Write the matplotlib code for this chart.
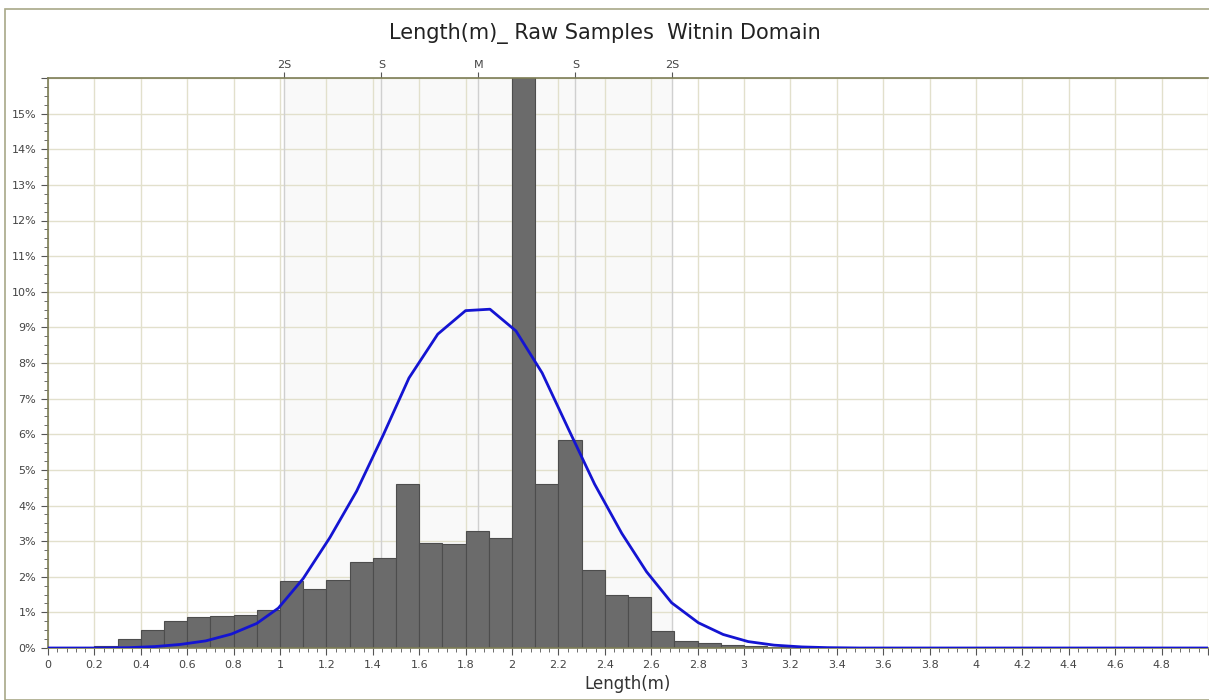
import matplotlib
matplotlib.use("Agg")
import matplotlib.pyplot as plt
from matplotlib.patches import Rectangle
from matplotlib.ticker import MultipleLocator, FuncFormatter

# Histogram bins (left edges, width 0.1) and percentages
bin_left = [0.2, 0.3, 0.4, 0.5, 0.6, 0.7, 0.8, 0.9, 1.0, 1.1, 1.2, 1.3, 1.4, 1.5,
            1.6, 1.7, 1.8, 1.9, 2.0, 2.1, 2.2, 2.3, 2.4, 2.5, 2.6, 2.7, 2.8, 2.9,
            3.0, 3.1]
bin_pct = [0.05, 0.25, 0.5, 0.77, 0.86, 0.9, 0.93, 1.06, 1.87, 1.66, 1.92, 2.42,
           2.53, 4.6, 2.95, 2.92, 3.28, 3.1, 17.0, 4.6, 5.83, 2.2, 1.5, 1.42,
           0.49, 0.21, 0.15, 0.08, 0.05, 0.02]

# Fitted normal curve
curve_x = [0.0, 0.2, 0.35, 0.46, 0.57, 0.68, 0.79, 0.9, 0.993, 1.10, 1.215, 1.33,
           1.443, 1.556, 1.68, 1.80, 1.905, 2.017, 2.13, 2.243, 2.356, 2.473,
           2.58, 2.688, 2.803, 2.91, 3.018, 3.13, 3.25, 3.36, 3.5, 5.0]
curve_y = [0.0, 0.0, 0.01, 0.04, 0.1, 0.2, 0.39, 0.69, 1.12, 1.95, 3.1, 4.4,
           5.95, 7.58, 8.81, 9.47, 9.51, 8.9, 7.72, 6.15, 4.6, 3.22,
           2.14, 1.27, 0.71, 0.38, 0.18, 0.08, 0.03, 0.01, 0.0, 0.0]

# Sample statistics (mean and standard deviation markers on top axis)
mean_len = 1.855
sd_len = 0.418
stat_labels = ["2S", "S", "M", "S", "2S"]
stat_mult = [-2, -1, 0, 1, 2]

fig = plt.figure(figsize=(12.09, 7.0), dpi=100)
fig.patch.set_facecolor("white")
# thin frame around the whole control
fig.add_artist(Rectangle((5 / 1209, 0.0), 1.0, 1 - 9 / 700, transform=fig.transFigure,
                         fill=False, edgecolor="#a8a888", linewidth=1.2))

ax = fig.add_axes([48 / 1209, 1 - 648 / 700, 1160 / 1209, 570 / 700])
ax.set_xlim(0, 5)
ax.set_ylim(0, 16)

# shaded band between -2S and +2S
ax.axvspan(mean_len - 2 * sd_len, mean_len + 2 * sd_len, color="#f9f9f9", zorder=0)

ax.xaxis.set_major_locator(MultipleLocator(0.2))
ax.xaxis.set_minor_locator(MultipleLocator(0.04))
ax.yaxis.set_major_locator(MultipleLocator(1))
ax.yaxis.set_minor_locator(MultipleLocator(0.25))
ax.xaxis.set_major_formatter(FuncFormatter(lambda v, p: f"{v:g}" if v < 4.95 else ""))
ax.yaxis.set_major_formatter(FuncFormatter(lambda v, p: f"{v:.0f}%" if v < 15.5 else ""))
ax.grid(True, which="major", color="#e2e0cc", linewidth=1.0, zorder=1)
ax.set_axisbelow(True)

for m in stat_mult:
    ax.axvline(mean_len + m * sd_len, color="#d0d0d0", linewidth=1.0, zorder=1)

ax.bar(bin_left, bin_pct, width=0.1, align="edge", color="#6b6b6b",
       edgecolor="#4d4d4d", linewidth=0.8, zorder=2)
ax.plot(curve_x, curve_y, color="#1414d2", linewidth=2.0, zorder=3)

for side in ["left", "bottom", "top"]:
    ax.spines[side].set_color("#7d7d55")
    ax.spines[side].set_linewidth(1.2)
ax.spines["right"].set_visible(False)

ax.tick_params(axis="both", which="major", labelsize=8, color="#555555", length=5)
ax.tick_params(axis="both", which="minor", color="#555555", length=3)
ax.tick_params(axis="both", labelcolor="#444444")
ax.set_xlabel("Length(m)", fontsize=12, color="#333333", labelpad=4)

top = ax.secondary_xaxis("top")
top.set_xticks([mean_len + m * sd_len for m in stat_mult])
top.set_xticklabels(stat_labels)
top.tick_params(labelsize=8, length=4, color="#555555", labelcolor="#444444", pad=2)
top.spines["top"].set_visible(False)

fig.text(0.5, 1 - 33 / 700, "Length(m)_ Raw Samples  Witnin Domain", ha="center",
         va="center", fontsize=15, color="#222222")

fig.savefig("out.png", dpi=100)
